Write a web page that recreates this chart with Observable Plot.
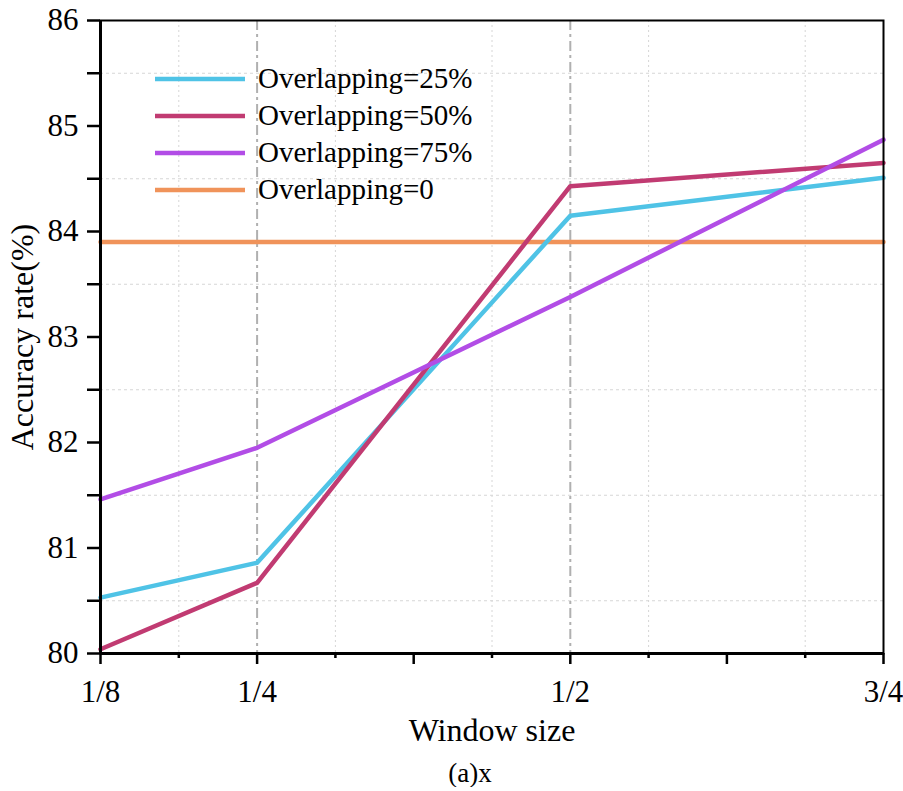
<!DOCTYPE html>
<html><head><meta charset="utf-8">
<script src="https://cdn.jsdelivr.net/npm/d3@7"></script>
<script src="https://cdn.jsdelivr.net/npm/@observablehq/plot@0.6"></script>
<style>
body{margin:0;background:#fff;}
#cap{font-family:"Liberation Serif","Times New Roman",serif;font-size:27px;line-height:27px;text-align:center;padding-left:37px;width:866px;color:#000;}
</style></head><body>
<div id="chart"></div>
<div id="cap">(a)x</div>
<script>
const windowSizes = [0.125, 0.25, 0.5, 0.75];
const seriesNames = ["Overlapping=25%", "Overlapping=50%", "Overlapping=75%", "Overlapping=0"];
const overlap25 = [80.53, 80.86, 84.15, 84.51];
const overlap50 = [80.04, 80.67, 84.43, 84.65];
const overlap75 = [81.46, 81.95, 83.38, 84.87];
const overlap0 = [83.90, 83.90, 83.90, 83.90];
const seriesColors = ["#4fc3e6", "#c13b72", "#b24de6", "#f0935a"];
const xMajorTicks = [0.125, 0.25, 0.375, 0.5, 0.625, 0.75];
const xTickLabels = ["1/8", "1/4", "", "1/2", "", "3/4"];
const xMinorTicks = [0.1875, 0.3125, 0.4375, 0.5625, 0.6875];
const xRefLines = [0.25, 0.5];
const yMajorTicks = [80, 81, 82, 83, 84, 85, 86];
const yMinorTicks = [80.5, 81.5, 82.5, 83.5, 84.5, 85.5];

const FONT = "Liberation Serif, Times New Roman, serif";
const allSeries = [overlap25, overlap50, overlap75, overlap0];
const drawOrder = [3, 0, 1, 2];
const rows = [];
for (const s of drawOrder) {
  windowSizes.forEach((x, i) => rows.push({series: seriesNames[s], x, y: allSeries[s][i]}));
}

function legendMark(index, scales, values, dims) {
  const g = d3.create("svg:g").attr("font-family", FONT).attr("font-size", 29)
    .attr("fill", "#000").attr("text-anchor", "start");
  seriesNames.forEach((name, i) => {
    const y = dims.marginTop + 59 + i * 37;
    const x0 = dims.marginLeft + 55;
    g.append("line").attr("x1", x0).attr("x2", x0 + 90).attr("y1", y).attr("y2", y)
      .attr("stroke", seriesColors[i]).attr("stroke-width", 4.5);
    g.append("text").attr("x", x0 + 103).attr("y", y).attr("dy", "0.3em").text(name);
  });
  return g.node();
}

const chart = Plot.plot({
  width: 903,
  height: 760,
  marginLeft: 100,
  marginRight: 20,
  marginTop: 20,
  marginBottom: 107,
  style: {fontFamily: FONT, fontSize: "30px", color: "#000", background: "#fff"},
  x: {domain: [0.125, 0.75], axis: null},
  y: {domain: [80, 86], axis: null},
  color: {domain: seriesNames, range: seriesColors},
  marks: [
    Plot.ruleX(xMinorTicks, {stroke: "#d6d6d6", strokeWidth: 1, strokeDasharray: "2,3"}),
    Plot.ruleY(yMinorTicks, {stroke: "#d6d6d6", strokeWidth: 1, strokeDasharray: "3,3"}),
    Plot.ruleX(xRefLines, {stroke: "#b0b0b0", strokeWidth: 2, strokeDasharray: "10,4,3,4"}),
    Plot.line(rows, {x: "x", y: "y", z: "series", stroke: "series", strokeWidth: 4.5}),
    Plot.frame({stroke: "#000", strokeWidth: 2}),
    Plot.ruleX([0.125], {stroke: "#000", strokeWidth: 3}),
    Plot.ruleY([80], {stroke: "#000", strokeWidth: 3}),
    Plot.axisX(xMajorTicks, {tickSize: 11, tickPadding: 15, strokeWidth: 2.5, stroke: "#000",
      tickFormat: (d) => xTickLabels[xMajorTicks.indexOf(d)], fontSize: 31, label: null}),
    Plot.axisX(xMinorTicks, {tickSize: 5, strokeWidth: 2.5, stroke: "#000", tickFormat: () => "", label: null}),
    Plot.axisY(yMajorTicks, {tickSize: 13, tickPadding: 9, strokeWidth: 2.5, stroke: "#000",
      tickFormat: (d) => String(d), fontSize: 31, label: null}),
    Plot.axisY(yMinorTicks, {tickSize: 13, strokeWidth: 2.5, stroke: "#000", tickFormat: () => "", label: null}),
    Plot.text(["Window size"], {frameAnchor: "bottom", lineAnchor: "bottom", textAnchor: "middle", dy: 87, fontSize: 32, fill: "#000"}),
    Plot.text(["Accuracy rate(%)"], {frameAnchor: "left", lineAnchor: "bottom", textAnchor: "middle", rotate: -90, dx: -68, fontSize: 32, fill: "#000"}),
    legendMark
  ]
});
document.getElementById("chart").appendChild(chart);
</script>
</body></html>
